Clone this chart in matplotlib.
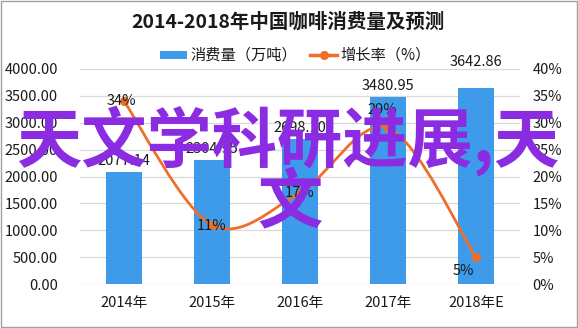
import matplotlib
matplotlib.use("Agg")
import matplotlib.pyplot as plt
import numpy as np
from matplotlib.path import Path
from matplotlib.patches import PathPatch, Rectangle

plt.rcParams['font.family'] = ['Noto Sans CJK SC', 'DejaVu Sans']

categories = ["2014年", "2015年", "2016年", "2017年", "2018年E"]
consumption = [2077.14, 2304.95, 2698.10, 3480.95, 3642.86]
growth = [34, 11, 17, 29, 5]
growth_labels = ["34%", "11%", "17%", "29%", "5%"]
left_ticks = [0, 500, 1000, 1500, 2000, 2500, 3000, 3500, 4000]
right_ticks = [0, 5, 10, 15, 20, 25, 30, 35, 40]

BAR = '#3E9BEA'
LINE = '#EF6F2A'
TXT = '#1a1a1a'

fig = plt.figure(figsize=(5.78, 3.28), dpi=100)
ax = fig.add_axes([80/578, 1-284/328, 440/578, 215/328])
ax2 = ax.twinx()

x = np.arange(len(categories))
ax.bar(x, consumption, width=0.42, color=BAR, zorder=2)
ax.set_ylim(0, 4000)
ax.set_xlim(-0.5, len(categories)-0.5)
ax.set_yticks(left_ticks)
ax.set_yticklabels([f"{v:.2f}" for v in left_ticks])
ax.set_xticks(x)
ax.set_xticklabels(categories)
ax.grid(axis='y', color='#D9D9D9', linewidth=0.9, zorder=0)
ax.set_axisbelow(True)
for a in (ax, ax2):
    for s in a.spines.values():
        s.set_visible(False)
    a.tick_params(length=0, labelsize=10.5, colors=TXT)
ax.tick_params(axis='y', pad=16)
ax.tick_params(axis='x', pad=9)
ax2.tick_params(axis='y', pad=9)

ax2.set_ylim(0, 40)
ax2.set_yticks(right_ticks)
ax2.set_yticklabels([f"{v}%" for v in right_ticks])

# smoothed line (Catmull-Rom -> Bezier)
P = np.column_stack([x, growth]).astype(float)
n = len(P)
verts = [P[0]]
codes = [Path.MOVETO]
for i in range(n-1):
    p0 = P[i-1] if i > 0 else P[i]
    p1 = P[i]
    p2 = P[i+1]
    p3 = P[i+2] if i+2 < n else P[i+1]
    c1 = p1 + (p2 - p0)/6
    c2 = p2 - (p3 - p1)/6
    verts += [c1, c2, p2]
    codes += [Path.CURVE4]*3
ax2.add_patch(PathPatch(Path(verts, codes), facecolor='none', edgecolor=LINE, lw=2.0, zorder=3))
ax2.plot(x, growth, linestyle='none', marker='o', ms=5.5, color=LINE, zorder=4)

# bar labels
for i, v in enumerate(consumption):
    off = 14 if i == len(consumption)-1 else 3
    ax.annotate(f"{v:.2f}", (x[i], v), xytext=(0, off), textcoords='offset points',
                ha='center', va='bottom', fontsize=10.5, color=TXT, zorder=5)

# growth labels
offs = [(-2, 0), (0, -1), (0, 0), (-4, 13), (-9, -10)]
for i, g in enumerate(growth):
    ax2.annotate(growth_labels[i], (x[i], g), xytext=offs[i], textcoords='offset points',
                 ha='center', va='center', fontsize=10.5, color=TXT, zorder=5)

# title and legend
fig.text(288/578, 1-22/328, "2014-2018年中国咖啡消费量及预测", ha='center', va='center',
         fontsize=14, fontweight='bold', color=TXT)
fig.patches.append(Rectangle((160/578, 1-58.5/328), 27/578, 7/328, transform=fig.transFigure,
                             facecolor=BAR, edgecolor='none'))
fig.text(190/578, 1-55/328, "消费量（万吨）", ha='left', va='center', fontsize=11, color=TXT)
fig.lines.append(plt.Line2D([310/578, 337/578], [1-55/328, 1-55/328], transform=fig.transFigure,
                            color=LINE, lw=2.5, marker=None))
fig.lines.append(plt.Line2D([323.5/578], [1-55/328], transform=fig.transFigure,
                            color=LINE, marker='o', ms=5.5, linestyle='none'))
fig.text(340/578, 1-55/328, "增长率（%）", ha='left', va='center', fontsize=11, color=TXT)

# overlay text
fig.text(288/578, 1-141/328, "天文学科研进展,天", ha='center', va='center',
         fontsize=47, fontweight='bold', color='#8B2BE2', zorder=10)
fig.text(290/578, 1-203/328, "文", ha='center', va='center',
         fontsize=47, fontweight='bold', color='#8B2BE2', zorder=10)

# border
fig.patches.append(Rectangle((0.002, 0.003), 0.996, 0.994, transform=fig.transFigure,
                             facecolor='none', edgecolor='#A0A0A0', lw=1.0))

fig.savefig("out.png", dpi=100)
